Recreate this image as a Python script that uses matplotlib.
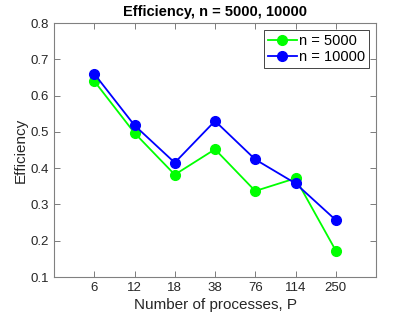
import numpy as np
import matplotlib.pyplot as plt

plt.rcParams['font.family'] = ['Liberation Sans', 'DejaVu Sans']

procs = ['6', '12', '18', '38', '76', '114', '250']
eff_5000 = [0.640, 0.497, 0.382, 0.452, 0.337, 0.372, 0.173]
eff_10000 = [0.660, 0.518, 0.415, 0.530, 0.424, 0.358, 0.257]

x = np.arange(1, len(procs) + 1)

fig = plt.figure(figsize=(4.15, 3.12), dpi=100)
ax = fig.add_axes([54 / 415, 35 / 312, 322 / 415, 254 / 312])

ax.plot(x, eff_5000, '-o', color=(0, 1, 0), lw=1.3, ms=7, label='n = 5000')
ax.plot(x, eff_10000, '-o', color=(0, 0, 1), lw=1.3, ms=7, label='n = 10000')

ax.set_xlim(0, 8)
ax.set_ylim(0.1, 0.8)
ax.set_xticks(x)
ax.set_xticklabels(procs)
ax.set_yticks(np.arange(0.1, 0.81, 0.1))
ax.yaxis.set_major_formatter(plt.FormatStrFormatter('%.1f'))

gray = (0.15, 0.15, 0.15)
for s in ax.spines.values():
    s.set_color((0.5, 0.5, 0.5))
    s.set_linewidth(0.8)
ax.tick_params(direction='in', top=True, right=True, length=4, width=0.6,
               color=(0.4, 0.4, 0.4), labelcolor=gray, labelsize=9.5)

ax.set_xlabel('Number of processes, P', fontsize=11, color=gray, labelpad=3)
ax.set_ylabel('Efficiency', fontsize=11, color=gray, labelpad=2)
ax.set_title('Efficiency, n = 5000, 10000', fontsize=10.5, fontweight='bold', pad=5)

leg = ax.legend(loc='upper right', fontsize=10.5, handlelength=2, handletextpad=0.15,
                borderpad=0.25, labelspacing=0.15, fancybox=False, framealpha=1,
                borderaxespad=0.5)
leg.get_frame().set_edgecolor((0.15, 0.15, 0.15))
leg.get_frame().set_linewidth(0.6)

fig.savefig('out.png', dpi=100)
